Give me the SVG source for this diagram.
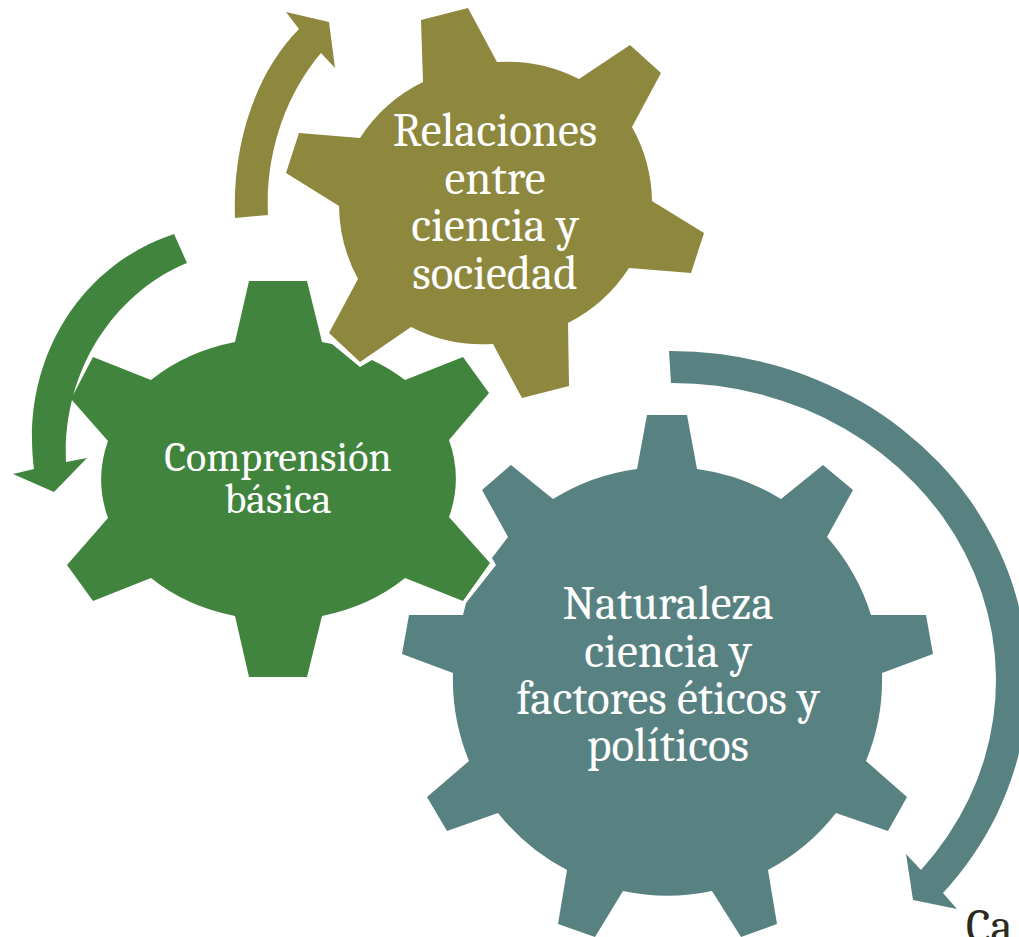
<svg xmlns="http://www.w3.org/2000/svg" width="1019" height="937" viewBox="0 0 1019 937">
<style>
text{font-family:"Cambria","Noto Serif","DejaVu Serif","Liberation Serif",serif;text-anchor:middle}
.t{fill:#fff;font-size:47px}
.s{fill:#fff;font-size:42px}
.o{fill:#8e873e}.g{fill:#40843e}.b{fill:#588281}
</style>
<rect width="1019" height="937" fill="#fff"/>
<g id="connectors">
<path class="o" d="M235 218C232 140 258 70 299 29L286 12L329 22L335 68L321 53C285 95 265 155 268 215Z"/>
<path class="g" d="M174 234L187 263C120 290 62 365 66 462L87 458L54 492L13 474L34 469C20 360 80 265 174 234Z"/>
<path class="b" d="M669 351A357 329 0 0 1 943 893L957 909L913 900L906 854L921 870A324 297 0 0 0 671 383Z"/>
</g>
<g id="node-relaciones">
<path class="o" d="M421 20L468 8L497 62A157 157 0 0 1 579 79L630 45L661 73L632 127A157 157 0 0 1 652 201L704 233L691 273L629 268A157 157 0 0 1 568 323L569 386L522 398L493 344A157 157 0 0 1 411 327L360 362L329 333L358 279A157 157 0 0 1 339 206L286 173L299 133L360 138A157 157 0 0 1 423 82Z"/>
<text class="t"><tspan x="495" y="146">Relaciones</tspan><tspan x="495" y="194">entre</tspan><tspan x="495" y="241">ciencia y</tspan><tspan x="495" y="289">sociedad</tspan></text>
</g>
<g id="node-comprension">
<path class="g" d="M249 281H307L322 342L332 344L360 367L372 360A178 141 0 0 1 405 380L463 357L489 393L449 440A178 141 0 0 1 449 517L490 563L463 601L405 578A178 141 0 0 1 322 616L307 677H249L235 616A178 141 0 0 1 151 578L93 601L67 565L108 518A178 141 0 0 1 108 441L71 399L93 357L151 380A178 141 0 0 1 235 342Z"/>
<text class="s"><tspan x="278" y="471">Comprensión</tspan><tspan x="278" y="513">básica</tspan></text>
</g>
<g id="node-naturaleza">
<path class="b" d="M647 415H687L697 469A214 214 0 0 1 781 499L823 465L853 490L827 537A214 214 0 0 1 871 615H926L933 654L882 673A214 214 0 0 1 866 761L907 797L888 831L836 813A214 214 0 0 1 768 870L777 924L741 937L712 891A214 214 0 0 1 623 891L595 937L558 924L567 870A214 214 0 0 1 498 813L447 831L427 797L469 761A214 214 0 0 1 453 673L402 654L409 615H463L466 603L496 565L492 558L508 537L482 490L511 465L553 499A214 214 0 0 1 637 469Z"/>
<text class="t"><tspan x="668" y="619">Naturaleza</tspan><tspan x="668" y="667">ciencia y</tspan><tspan x="668" y="714">factores éticos y</tspan><tspan x="668" y="761">políticos</tspan></text>
</g>
<text x="966" y="942" style="text-anchor:start;font-size:47px;fill:#2b2a20">Ca</text>
</svg>
